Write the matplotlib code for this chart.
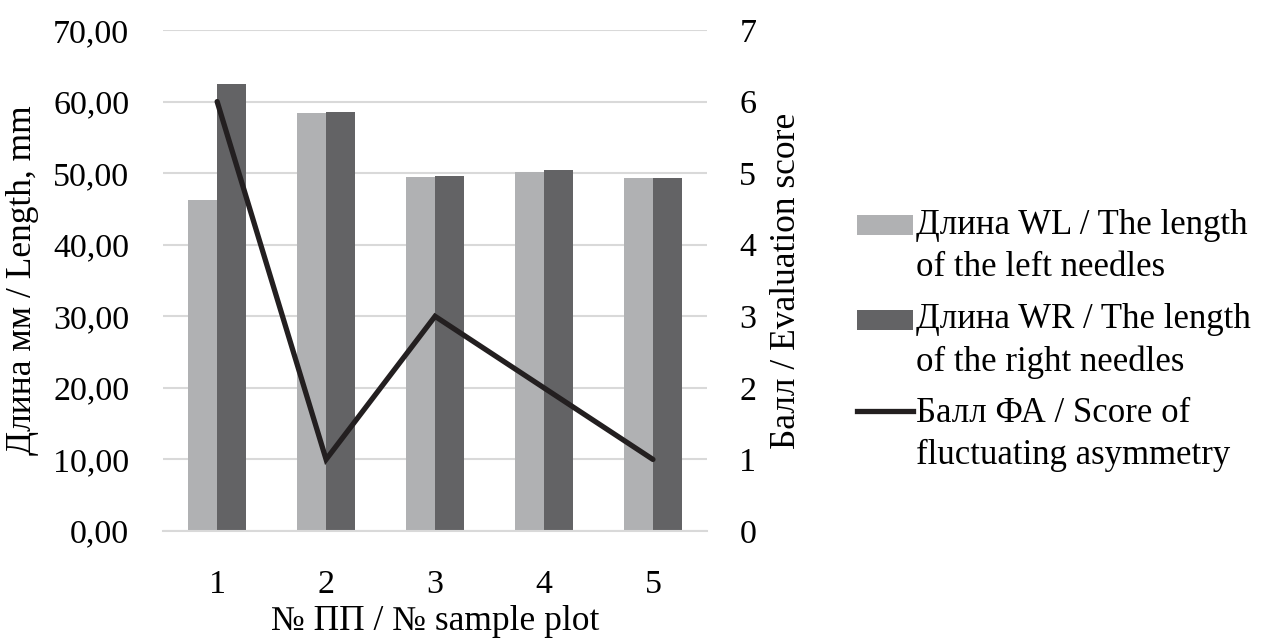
"""Needle length by sample plot with fluctuating asymmetry score."""
import matplotlib.pyplot as plt
import numpy as np
from matplotlib.lines import Line2D
from matplotlib.patches import Rectangle

plt.rcParams["font.family"] = ["Liberation Serif", "DejaVu Serif"]

plots = ["1", "2", "3", "4", "5"]
wl_length = [46.3, 58.4, 49.4, 50.1, 49.3]
wr_length = [62.4, 58.5, 49.6, 50.4, 49.3]
fa_score = [6, 1, 3, 2, 1]

left_ticks = np.arange(0, 71, 10)
left_labels = [f"{v:.2f}".replace(".", ",") for v in left_ticks]
right_ticks = np.arange(0, 8, 1)

legend_labels = [
    ("Длина WL / The length", "of the left needles"),
    ("Длина WR / The length", "of the right needles"),
    ("Балл ФА / Score of", "fluctuating asymmetry"),
]

LIGHT = "#b0b1b3"
DARK = "#636365"
LINE = "#231f20"
GRID = "#d9d9d9"
FS_TICK = 24.5
FS_LAB = 25.5
FS_LEG = 25

fig = plt.figure(figsize=(12.61, 6.39), dpi=100)
ax = fig.add_axes([0.129, 0.169, 0.432, 0.784])
ax2 = ax.twinx()

x = np.arange(1, len(plots) + 1)
w = 0.265
ax.bar(x - w / 2, wl_length, width=w, color=LIGHT, zorder=2)
ax.bar(x + w / 2, wr_length, width=w, color=DARK, zorder=2)
ax2.plot(x, fa_score, color=LINE, lw=3.8, solid_capstyle="round",
         solid_joinstyle="miter", zorder=3)

ax.set_xlim(0.5, 5.5)
ax.set_ylim(0, 70)
ax2.set_ylim(0, 7)
ax.set_yticks(left_ticks)
ax.set_yticklabels(left_labels)
ax2.set_yticks(right_ticks)
ax.set_xticks(x)
ax.set_xticklabels(plots)

ax.yaxis.grid(True, color=GRID, lw=1.5, zorder=0)
ax.set_axisbelow(True)
for a in (ax, ax2):
    for s in a.spines.values():
        s.set_visible(False)
ax.spines["bottom"].set_visible(True)
ax.spines["bottom"].set_color(GRID)
ax.spines["bottom"].set_linewidth(1.5)

ax.tick_params(axis="both", length=0, labelsize=FS_TICK)
ax.tick_params(axis="y", pad=24)
ax.tick_params(axis="x", pad=28)
ax2.tick_params(axis="y", length=0, labelsize=FS_TICK, pad=23)

ax.set_xlabel("№ ПП / № sample plot", fontsize=FS_LAB, labelpad=3)
ax.set_ylabel("Длина мм / Length, mm", fontsize=FS_LAB, labelpad=10)
ax2.set_ylabel("Балл / Evaluation score", fontsize=FS_LAB, labelpad=10)

# hand-built legend: handle sits next to the first text line, like Excel
H = 639.0
W = 1261.0
entry_y = [225, 320, 413]
line_gap = 42
for i, (l1, l2) in enumerate(legend_labels):
    yc = 1 - entry_y[i] / H
    if i < 2:
        fig.add_artist(Rectangle((857 / W, yc - 10 / H), 56 / W, 20 / H,
                                 transform=fig.transFigure,
                                 color=[LIGHT, DARK][i], lw=0))
    else:
        fig.add_artist(Line2D([857 / W, 913 / W], [yc + 2 / H, yc + 2 / H],
                              transform=fig.transFigure, color=LINE, lw=3.8))
    fig.text(916 / W, yc, l1, fontsize=FS_LEG, va="center", ha="left")
    fig.text(916 / W, yc - line_gap / H, l2, fontsize=FS_LEG, va="center", ha="left")

fig.savefig("out.png", dpi=100)
